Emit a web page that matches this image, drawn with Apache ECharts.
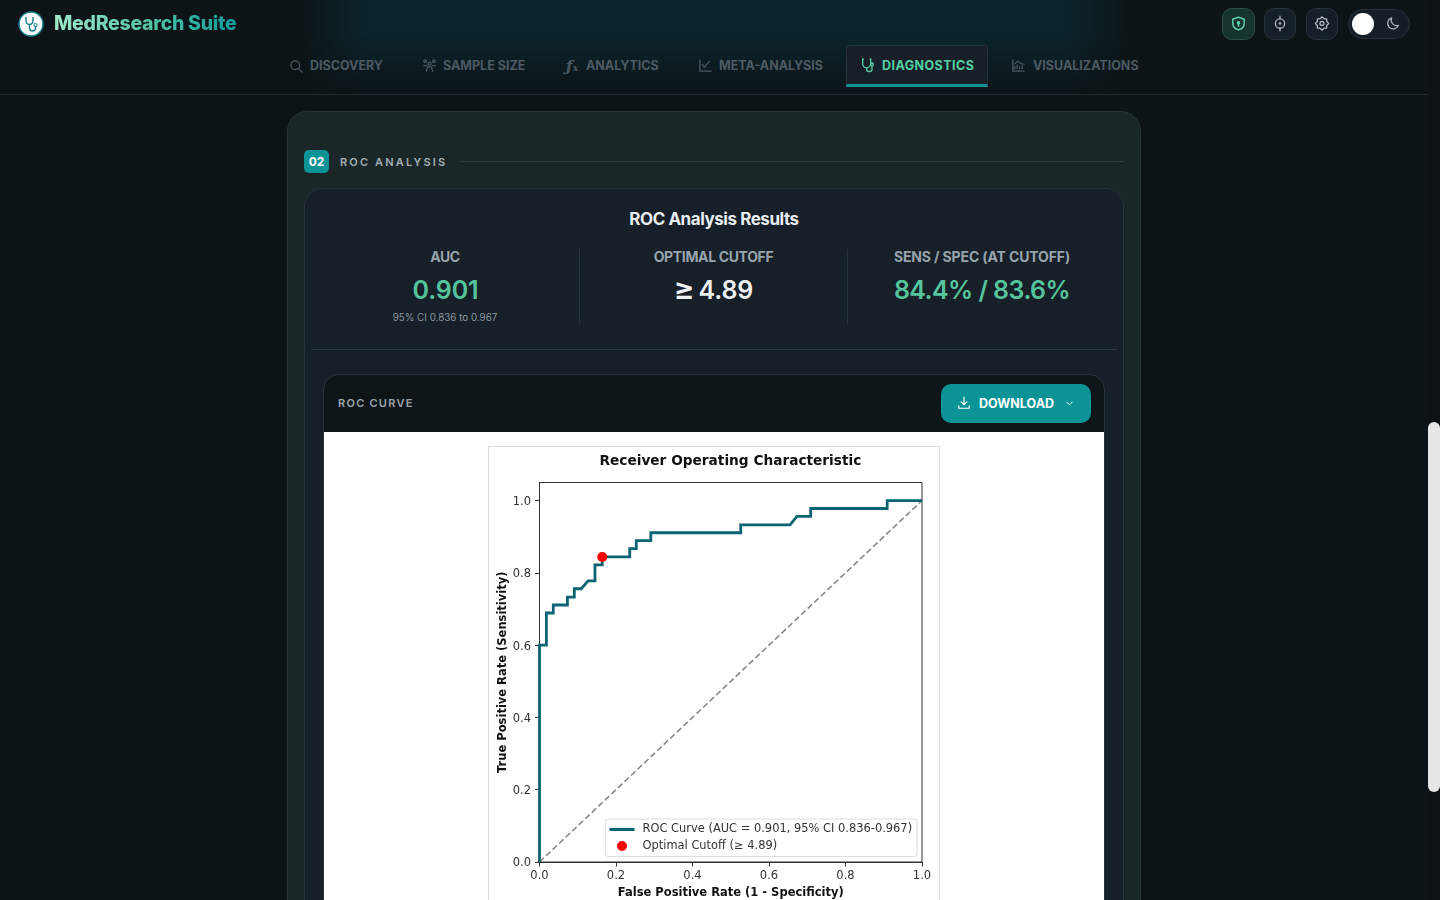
<!DOCTYPE html>
<html><head><meta charset="utf-8"><title>ROC Curve</title>
<script src="https://cdn.jsdelivr.net/npm/echarts@6/dist/echarts.min.js"></script>
<style>
html,body{margin:0;padding:0;width:1440px;height:900px;overflow:hidden;background:#0d1418;font-family:Inter,"Noto Sans",sans-serif}
.a{position:absolute;box-sizing:border-box;white-space:nowrap}
.glow{left:300px;top:0;width:830px;height:94px;background:linear-gradient(90deg,rgba(10,40,45,0),#0b262b 8%,#0b262b 92%,rgba(10,40,45,0));-webkit-mask-image:linear-gradient(180deg,#000 35%,transparent 100%)}
.nav{top:58px;font-size:12.5px;font-weight:700;color:#4c5a62;line-height:16px;letter-spacing:0}
.ic{position:absolute;fill:none;stroke:currentColor;stroke-width:2;stroke-linecap:round;stroke-linejoin:round}
.btn{top:8px;width:32px;height:32px;border-radius:10px;background:#161f28;border:1px solid #26323c;color:#aab4ba}
.lab{top:248px;font-size:14px;font-weight:700;color:#98a4ac;letter-spacing:-.35px;text-align:center;line-height:17px}
.val{top:274px;font-size:25px;font-weight:600;text-align:center;line-height:33px;letter-spacing:-.1px}
</style></head><body>
<div class="a glow"></div>
<div class="a" style="left:0;top:94px;width:1428px;height:1px;background:#222c36"></div>

<svg class="a" style="left:18px;top:11px" width="26" height="26" viewBox="0 0 26 26"><circle cx="13" cy="13" r="12" fill="#fff" stroke="#137f85" stroke-width="1.4"/><path d="M8 6v4a3.5 3.5 0 0 0 7 0V6M11.5 14v3a3 3 0 0 0 6 0v-2" fill="none" stroke="#137f85" stroke-width="1.4"/><circle cx="17.5" cy="14" r="1.6" fill="none" stroke="#137f85"/></svg>
<div class="a" style="left:54px;top:11px;font:800 19.5px/24px Inter;letter-spacing:-.28px;background:linear-gradient(90deg,#a0e8c8,#4fc3a5 55%,#0e9a9a);-webkit-background-clip:text;background-clip:text;color:transparent">MedResearch Suite</div>

<svg class="a ic" style="left:289px;top:59px;color:#4c5a62" width="15" height="15" viewBox="0 0 24 24"><circle cx="10" cy="10" r="7"/><path d="M15 15l6 6"/></svg>
<div class="a nav" style="left:310px">DISCOVERY</div>
<svg class="a ic" style="left:422px;top:58px;color:#4c5a62" width="15" height="15" viewBox="0 0 24 24"><circle cx="12" cy="9" r="2.5"/><circle cx="5" cy="5" r="2"/><circle cx="19" cy="5" r="2"/><path d="M7 21l2-7h6l2 7M3 12h4M17 12h4"/></svg>
<div class="a nav" style="left:443px">SAMPLE SIZE</div>
<div class="a" style="left:566px;top:57px;font:italic 600 15px/18px 'DejaVu Serif';color:#4c5a62">ƒ<span style="font-size:10px">x</span></div>
<div class="a nav" style="left:586px">ANALYTICS</div>
<svg class="a ic" style="left:698px;top:58px;color:#4c5a62" width="15" height="15" viewBox="0 0 24 24"><path d="M3 3v18h18M7 10l3 5 3-4 5-5"/></svg>
<div class="a nav" style="left:719px">META-ANALYSIS</div>
<div class="a" style="left:846px;top:45px;width:142px;height:42px;background:#171f28;border:1px solid #26323c;border-bottom:3px solid #0b9396;border-radius:4px 4px 0 0"></div>
<svg class="a ic" style="left:860px;top:57px;color:#55d0a5" width="16" height="16" viewBox="0 0 24 24"><path d="M5 3H4v7a6 6 0 0 0 12 0V3h-1M10 16v2a4 4 0 0 0 8 0v-4"/><circle cx="18" cy="11" r="2"/></svg>
<div class="a nav" style="left:882px;color:#55d0a5;letter-spacing:.45px">DIAGNOSTICS</div>
<svg class="a ic" style="left:1011px;top:58px;color:#4c5a62" width="15" height="15" viewBox="0 0 24 24"><path d="M3 3v18h18M6 17v-4M10 17v-6M14 17v-3M18 17v-5M6 9l5-4 5 4 5 1"/></svg>
<div class="a nav" style="left:1033px">VISUALIZATIONS</div>

<div class="a" style="left:1222px;top:8px;width:33px;height:32px;border-radius:10px;background:#17332f;border:1px solid #2b5048"></div>
<svg class="a ic" style="left:1230px;top:15px;color:#5fd6ac" width="17" height="17" viewBox="0 0 24 24"><path d="M12 3l8 3v6c0 5-4 8-8 9-4-1-8-4-8-9V6z"/><circle cx="12" cy="11" r="1.5"/><path d="M12 13v3"/></svg>
<div class="a btn" style="left:1264px"></div>
<svg class="a ic" style="left:1272px;top:15px;color:#aab4ba" width="16" height="17" viewBox="0 0 24 24"><circle cx="12" cy="12" r="7"/><circle cx="12" cy="12" r="1"/><path d="M12 1v4M12 19v4"/></svg>
<div class="a btn" style="left:1306px"></div>
<svg class="a ic" style="left:1314px;top:15px;color:#aab4ba" width="16" height="17" viewBox="0 0 24 24"><path d="M12 2l3 3h4v4l3 3-3 3v4h-4l-3 3-3-3H5v-4l-3-3 3-3V5h4z"/><circle cx="12" cy="12" r="3"/></svg>
<div class="a" style="left:1348px;top:9px;width:62px;height:30px;border-radius:15px;background:#161f28;border:1px solid #26323c"></div>
<div class="a" style="left:1352px;top:13px;width:22px;height:22px;border-radius:50%;background:#fff"></div>
<svg class="a ic" style="left:1386px;top:16px;color:#aab4ba" width="15" height="15" viewBox="0 0 24 24"><path d="M20 15A9 9 0 0 1 9 3a9 9 0 1 0 11 12z"/></svg>

<div class="a" style="left:287px;top:111px;width:854px;height:820px;border-radius:20px;background:#1a2628;border:1px solid #26343a"></div>
<div class="a" style="left:304px;top:150px;width:25px;height:23px;border-radius:5px;background:#0b9396;color:#fff;font:700 12px/23px Inter;text-align:center">02</div>
<div class="a" style="left:340px;top:154px;font:600 11px/16px Inter;letter-spacing:2.15px;color:#a2aeb4">ROC ANALYSIS</div>
<div class="a" style="left:459px;top:161px;width:665px;height:1px;background:#2c3b3e"></div>

<div class="a" style="left:304px;top:188px;width:820px;height:760px;border-radius:18px;background:#171f28;border:1px solid #26323c"></div>
<div class="a" style="left:312px;top:208px;width:804px;text-align:center;font:700 17px/22px Inter;letter-spacing:-.45px;color:#e8edf0">ROC Analysis Results</div>
<div class="a lab" style="left:312px;width:266px">AUC</div>
<div class="a val" style="left:312px;width:267px;color:#55c49c">0.901</div>
<div class="a" style="left:312px;top:311px;width:266px;text-align:center;font:400 9.8px/13px Inter;color:#8b979f">95% CI 0.836 to 0.967</div>
<div class="a" style="left:579px;top:249px;width:1px;height:76px;background:#26323c"></div>
<div class="a lab" style="left:580px;width:267px">OPTIMAL CUTOFF</div>
<div class="a val" style="left:580px;width:267px;color:#eef2f4"><span style="font-size:31px;line-height:0;vertical-align:-1px;margin-right:4px">≥</span>4.89</div>
<div class="a" style="left:847px;top:249px;width:1px;height:76px;background:#26323c"></div>
<div class="a lab" style="left:848px;width:268px;letter-spacing:-.13px">SENS / SPEC (AT CUTOFF)</div>
<div class="a val" style="left:848px;width:268px;color:#55c49c;letter-spacing:-.55px">84.4% / 83.6%</div>
<div class="a" style="left:311px;top:349px;width:806px;height:1px;background:#2a3640"></div>

<div class="a" style="left:323px;top:374px;width:782px;height:600px;border-radius:16px;background:#0d1518;border:1px solid #26323c;overflow:hidden">
 <div class="a" style="left:0;top:57px;width:780px;height:560px;background:#fff"></div>
</div>
<div class="a" style="left:338px;top:395px;font:600 11px/16px Inter;letter-spacing:1.25px;color:#9aa6ac">ROC CURVE</div>
<div class="a" style="left:941px;top:384px;width:150px;height:39px;border-radius:10px;background:#0b9396"></div>
<svg class="a ic" style="left:957px;top:396px;color:#fff" width="14" height="14" viewBox="0 0 24 24"><path d="M12 2v13M7 10l5 5 5-5M3 17v4h18v-4"/></svg>
<div class="a" style="left:979px;top:396px;font:700 12.5px/16px Inter;letter-spacing:0;color:#fff">DOWNLOAD</div>
<svg class="a ic" style="left:1064px;top:398px;color:#fff" width="11" height="11" viewBox="0 0 24 24"><path d="M6 9l6 6 6-6"/></svg>

<div class="a" style="left:488px;top:446px;width:452px;height:480px;border:1px solid #ddd;background:#fff"></div>
<div id="chart" class="a" style="left:489px;top:447px;width:450px;height:453px"></div>

<div class="a" style="left:1428px;top:0;width:12px;height:900px;background:#0c1215"></div>
<div class="a" style="left:1428px;top:422px;width:12px;height:370px;border-radius:6px;background:#e6e8e8"></div>

<script>
const chartTitle = "Receiver Operating Characteristic";
const xAxisName = "False Positive Rate (1 - Specificity)";
const yAxisName = "True Positive Rate (Sensitivity)";
const rocName = "ROC Curve (AUC = 0.901, 95% CI 0.836-0.967)";
const cutoffName = "Optimal Cutoff (≥ 4.89)";
const tickValues = [0, 0.2, 0.4, 0.6, 0.8, 1.0];
const rocFpr = [0,0,0.018,0.018,0.036,0.036,0.073,0.073,0.091,0.091,0.109,0.127,0.145,0.145,0.164,0.164,0.236,0.236,0.253,0.253,0.291,0.291,0.526,0.526,0.655,0.673,0.709,0.709,0.909,0.909,1];
const rocTpr = [0,0.6,0.6,0.689,0.689,0.711,0.711,0.733,0.733,0.756,0.756,0.778,0.778,0.822,0.822,0.844,0.844,0.867,0.867,0.889,0.889,0.911,0.911,0.933,0.933,0.956,0.956,0.978,0.978,1,1];
const diagonalFpr = [0, 1];
const diagonalTpr = [0, 1];
const cutoffPoint = [0.164, 0.844];

const zip = (a, b) => a.map((v, i) => [v, b[i]]);
const tickFont = {fontFamily: 'DejaVu Sans', fontSize: 11.5, color: '#333'};
const axisCommon = {
  type: 'value', nameLocation: 'middle', nameMoveOverlap: false,
  nameTextStyle: {fontFamily: 'DejaVu Sans', fontWeight: 'bold', fontSize: 11.5, color: '#111'},
  axisLine: {show: true, onZero: false, lineStyle: {color: '#333', width: 1}},
  axisTick: {show: true, length: 4.5, customValues: tickValues, lineStyle: {color: '#333', width: 1}},
  splitLine: {show: false}
};
const chart = echarts.init(document.getElementById('chart'), null, {renderer: 'canvas'});
chart.setOption({
  animation: false, backgroundColor: '#fff',
  title: {text: chartTitle, left: 110.5, top: 7, padding: 0, textStyle: {fontFamily: 'DejaVu Sans', fontWeight: 'bold', fontSize: 13.7, color: '#111'}},
  grid: {show: true, outerBoundsMode: 'none', left: 50.5, top: 35.5, width: 382.5, height: 379.5, borderColor: '#333', borderWidth: 1, backgroundColor: '#fff'},
  xAxis: {...axisCommon, axisLabel: {...tickFont, customValues: tickValues, margin: 8.5, formatter: v => v.toFixed(1)}, name: xAxisName, nameGap: 25, min: 0, max: 1},
  yAxis: {...axisCommon, axisLabel: {...tickFont, customValues: tickValues, margin: 8.5, formatter: v => '{t|' + v.toFixed(1) + '}', rich: {t: {...tickFont, padding: [3, 0, 0, 0]}}}, name: yAxisName, nameGap: 30, min: 0, max: 1.05},
  legend: {
    left: 116.5, top: 372, orient: 'vertical', padding: [5, 5, 5, 4], itemGap: 5.5, itemWidth: 25, itemHeight: 10,
    backgroundColor: '#fff', borderColor: '#ddd', borderWidth: 1, borderRadius: 3,
    textStyle: {fontFamily: 'DejaVu Sans', fontSize: 11.45, color: '#333', padding: [0, 0, 0, 3]},
    data: [{name: rocName, icon: 'path://M0 3.5H25V6.5H0Z M0 0V10'}, {name: cutoffName, icon: 'circle'}]
  },
  series: [
    {name: 'Chance', type: 'line', data: zip(diagonalFpr, diagonalTpr), symbol: 'none', silent: true, lineStyle: {color: '#888', width: 1.6, type: [6, 3]}, z: 2},
    {name: rocName, type: 'line', data: zip(rocFpr, rocTpr), symbol: 'none', lineStyle: {color: '#0b6374', width: 2.8, cap: 'butt', join: 'miter'}, itemStyle: {color: '#0b6374'}, z: 3},
    {name: cutoffName, type: 'scatter', data: [cutoffPoint], symbolSize: 10, itemStyle: {color: '#ff0000', opacity: 1}, z: 4}
  ]
});
</script>
</body></html>
